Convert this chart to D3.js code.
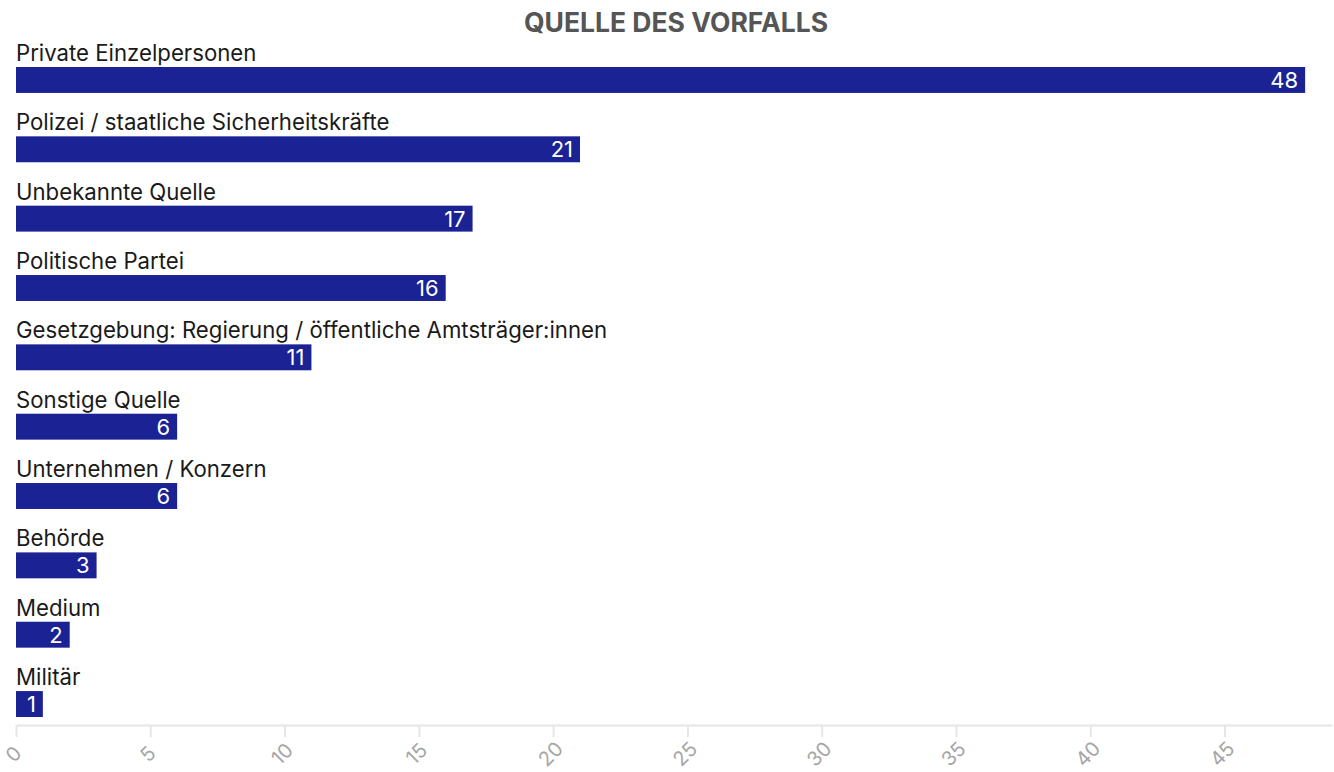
<!DOCTYPE html>
<html>
<head>
<meta charset="utf-8">
<script src="https://cdn.jsdelivr.net/npm/d3@7"></script>
<style>
  html, body { margin: 0; padding: 0; background: #fff; }
  svg { display: block; font-family: 'Inter', sans-serif; }
</style>
</head>
<body>
<svg id="chart" width="1334" height="772"></svg>
<script>
const categories = [
  "Private Einzelpersonen",
  "Polizei / staatliche Sicherheitskräfte",
  "Unbekannte Quelle",
  "Politische Partei",
  "Gesetzgebung: Regierung / öffentliche Amtsträger:innen",
  "Sonstige Quelle",
  "Unternehmen / Konzern",
  "Behörde",
  "Medium",
  "Militär"
];
const values = [48, 21, 17, 16, 11, 6, 6, 3, 2, 1];
const tickValues = [0, 5, 10, 15, 20, 25, 30, 35, 40, 45];
const title = "QUELLE DES VORFALLS";

const svg = d3.select("#chart");
const left = 16, right = 1332;

const x = d3.scaleLinear().domain([0, 49]).range([left, right]);
const y = d3.scaleBand().domain(categories).range([67, 717]).paddingInner(0.626).paddingOuter(0);

svg.append("text")
  .attr("x", 676).attr("y", 32)
  .attr("text-anchor", "middle")
  .attr("font-size", 26.5).attr("font-weight", 700)
  .attr("fill", "#555555")
  .text(title);

const rows = svg.append("g").selectAll("g").data(categories).join("g");

rows.append("text")
  .attr("x", left).attr("y", d => y(d) - 6)
  .attr("font-size", 22.2).attr("fill", "#1a1a1a")
  .text(d => d);

rows.append("rect")
  .attr("x", x(0)).attr("y", d => y(d))
  .attr("width", (d, i) => x(values[i]) - x(0))
  .attr("height", y.bandwidth())
  .attr("fill", "#1b2294");

rows.append("text")
  .attr("x", (d, i) => x(values[i]) - 7)
  .attr("y", d => y(d) + y.bandwidth() / 2)
  .attr("dy", "0.36em")
  .attr("text-anchor", "end")
  .attr("font-size", 22).attr("fill", "#ffffff")
  .text((d, i) => values[i]);

const axis = d3.axisBottom(x).tickValues(tickValues).tickSize(12).tickSizeOuter(0);
const gx = svg.append("g").attr("transform", "translate(0,725)").call(axis);
gx.select(".domain").attr("stroke", "#e6e6e6").attr("stroke-width", 2);
gx.selectAll(".tick line").attr("stroke", "#e6e6e6").attr("stroke-width", 2);
gx.selectAll(".tick text")
  .attr("fill", "#a6a6a6").attr("font-size", 20)
  .attr("font-family", "'Inter', sans-serif")
  .attr("x", 0).attr("y", 0).attr("dy", "0.35em")
  .attr("text-anchor", "middle")
  .attr("transform", "translate(-3,29) rotate(-45)");
</script>
</body>
</html>
